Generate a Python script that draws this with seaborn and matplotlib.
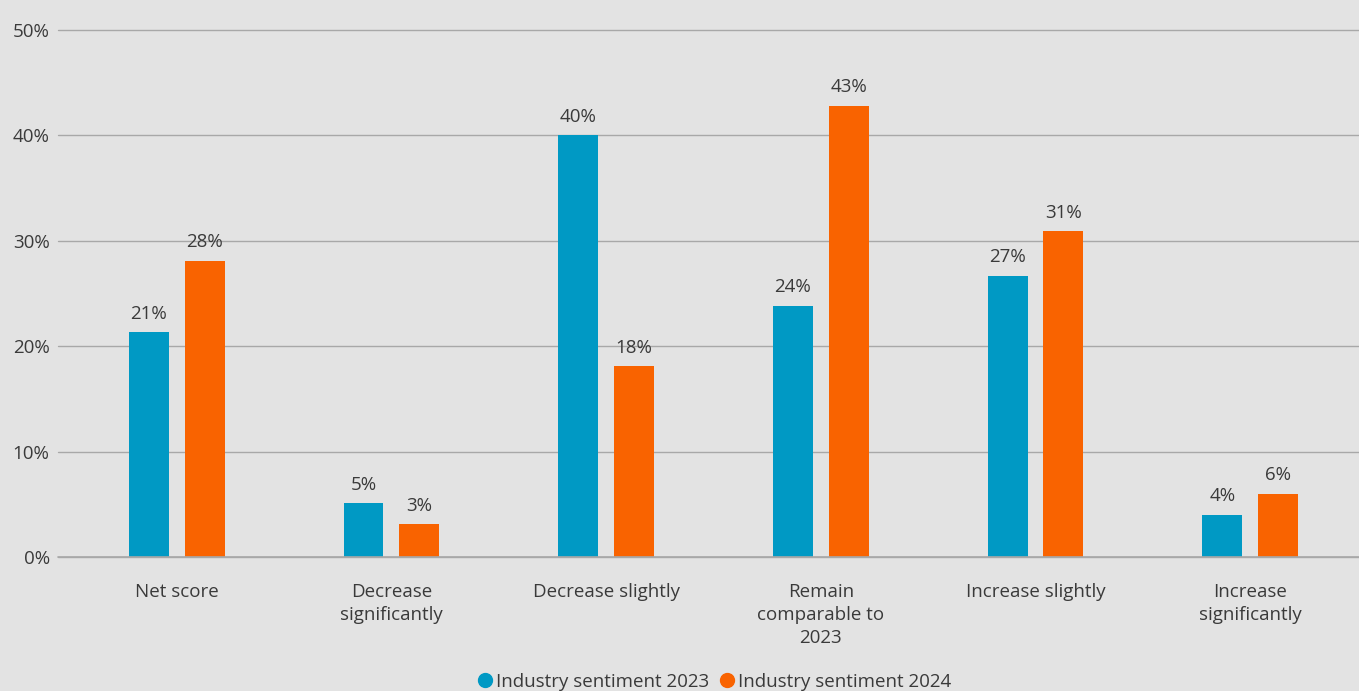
import matplotlib
matplotlib.use("Agg")
import matplotlib.pyplot as plt
from matplotlib.lines import Line2D
import seaborn as sns
import pandas as pd

categories = [
    "Net score",
    "Decrease\nsignificantly",
    "Decrease slightly",
    "Remain\ncomparable to\n2023",
    "Increase slightly",
    "Increase\nsignificantly",
]
series_names = ["Industry sentiment 2023", "Industry sentiment 2024"]
values_2023 = [21.3, 5.1, 40.0, 23.8, 26.7, 4.0]
values_2024 = [28.1, 3.1, 18.1, 42.8, 30.9, 6.0]
y_ticks = [0, 10, 20, 30, 40, 50]

colors = ["#0099c4", "#f96300"]
bg = "#e3e3e3"
text_color = "#3a3a3a"

df = pd.DataFrame({
    "category": categories * 2,
    "series": [series_names[0]] * len(categories) + [series_names[1]] * len(categories),
    "value": values_2023 + values_2024,
})

sns.set_theme(style="white")
plt.rcParams["font.family"] = ["Open Sans", "DejaVu Sans"]

fig = plt.figure(figsize=(13.59, 6.91), dpi=100, facecolor=bg)
ax = fig.add_axes([58 / 1359, (691 - 557) / 691, 1 - 58 / 1359, (557 - 30) / 691])
ax.set_facecolor(bg)

sns.barplot(data=df, x="category", y="value", hue="series", order=categories,
            hue_order=series_names, palette=colors, width=0.52, gap=0.285,
            saturation=1, linewidth=0, edgecolor="none", ax=ax, legend=False, zorder=3)

for container in ax.containers:
    labels = [f"{round(v)}%" for v in container.datavalues]
    ax.bar_label(container, labels=labels, padding=7, fontsize=13.5, color=text_color)

ax.set_ylim(0, 50)
ax.set_xlim(-0.553, 5.507)
ax.set_yticks(y_ticks)
ax.set_yticklabels([f"{t}%" for t in y_ticks])
ax.yaxis.grid(True, color="#a8a8a8", linewidth=1.0, zorder=0)
ax.set_axisbelow(True)
for gl in ax.get_ygridlines():
    gl.set_clip_on(False)
# baseline at zero
ax.axhline(0, color="#a8a8a8", linewidth=1.2, zorder=4, clip_on=False)
for s in ax.spines.values():
    s.set_visible(False)
ax.tick_params(axis="y", length=0, pad=6, labelsize=13.5, labelcolor=text_color)
ax.tick_params(axis="x", length=0, pad=19, labelsize=13.5, labelcolor=text_color)
for lbl in ax.get_xticklabels():
    lbl.set_linespacing(1.35)
ax.set_xlabel("")
ax.set_ylabel("")

handles = [Line2D([0], [0], marker="o", linestyle="", markersize=10,
                  markerfacecolor=c, markeredgecolor=c) for c in colors]
fig.legend(handles, series_names, loc="lower center", bbox_to_anchor=(0.525, -0.024),
           ncol=2, frameon=False, fontsize=13.5, handletextpad=0.05,
           columnspacing=0.5, handlelength=1.0, labelcolor=text_color)

fig.savefig("out.png", dpi=100, facecolor=bg)
